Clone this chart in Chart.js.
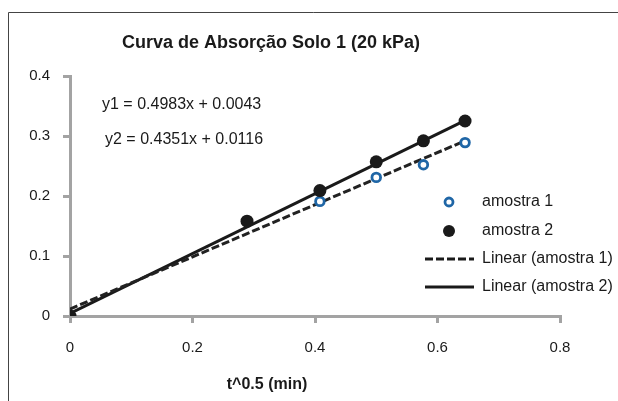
<!DOCTYPE html>
<html>
<head>
<meta charset="utf-8">
<script src="https://cdn.jsdelivr.net/npm/chart.js@4.4.0/dist/chart.umd.min.js"></script>
<style>
html,body{margin:0;padding:0;background:#fff;}
#wrap{width:618px;height:401px;position:relative;}
</style>
</head>
<body>
<div id="wrap"><canvas id="c" width="618" height="401"></canvas></div>
<script>
// ---- data ----
const titleText = 'Curva de Absorção Solo 1 (20 kPa)';
const xAxisTitle = 't^0.5 (min)';
const seriesNames = ['amostra 1', 'amostra 2', 'Linear (amostra 1)', 'Linear (amostra 2)'];
const xValues = [0, 0.289, 0.408, 0.5, 0.577, 0.645];
const amostra1 = [0, 0.158, 0.191, 0.231, 0.252, 0.289];
const amostra2 = [0, 0.158, 0.209, 0.257, 0.292, 0.325];
const trend1X = [0, 0.645];
const trend1Y = [0.0116, 0.292];
const trend2X = [0, 0.647];
const trend2Y = [0.0043, 0.327];
const equations = ['y1 = 0.4983x + 0.0043', 'y2 = 0.4351x + 0.0116'];
const xTicksMax = 0.8, yTicksMax = 0.4;

const pts = (xs, ys) => xs.map((x, i) => ({x: x, y: ys[i]}));
const FONT = '"Liberation Sans", Arial, sans-serif';
const BLUE = '#1f66a6';
const AXIS = '#a3a3a3';

const decor = {
  id: 'decor',
  afterDraw(chart) {
    const ctx = chart.ctx;
    ctx.save();
    // outer frame (cut by the picture edge)
    ctx.strokeStyle = '#444';
    ctx.lineWidth = 1;
    ctx.beginPath();
    ctx.moveTo(8.5, 401);
    ctx.lineTo(8.5, 12.5);
    ctx.lineTo(618, 12.5);
    ctx.stroke();
    // title
    ctx.fillStyle = '#1a1a1a';
    ctx.textAlign = 'center';
    ctx.textBaseline = 'middle';
    ctx.font = 'bold 18px ' + FONT;
    ctx.fillText(titleText, 271, 43);
    // x axis title
    ctx.font = 'bold 16px ' + FONT;
    ctx.fillText(xAxisTitle, 267, 385);
    // equations
    ctx.font = '16px ' + FONT;
    ctx.textAlign = 'left';
    ctx.fillText(equations[0], 102, 105);
    ctx.fillText(equations[1], 105, 140);
    // legend
    const ly = [202, 231, 259, 287];
    ctx.font = '16px ' + FONT;
    ctx.fillStyle = '#1a1a1a';
    seriesNames.forEach((n, i) => ctx.fillText(n, 482, ly[i]));
    // markers
    ctx.beginPath();
    ctx.arc(449, ly[0], 4, 0, Math.PI * 2);
    ctx.strokeStyle = BLUE;
    ctx.lineWidth = 2.8;
    ctx.stroke();
    ctx.beginPath();
    ctx.arc(449, ly[1], 6, 0, Math.PI * 2);
    ctx.fillStyle = '#1a1a1a';
    ctx.fill();
    ctx.strokeStyle = '#1a1a1a';
    ctx.lineWidth = 3;
    ctx.setLineDash([8, 3]);
    ctx.beginPath();
    ctx.moveTo(425, ly[2]); ctx.lineTo(474, ly[2]);
    ctx.stroke();
    ctx.setLineDash([]);
    ctx.beginPath();
    ctx.moveTo(425, ly[3]); ctx.lineTo(474, ly[3]);
    ctx.stroke();
    ctx.restore();
  }
};

new Chart(document.getElementById('c'), {
  type: 'scatter',
  data: {
    datasets: [
      {label: seriesNames[0], data: pts(xValues, amostra1), showLine: false,
       pointRadius: 4.3, pointBorderWidth: 2.8, pointBackgroundColor: '#fff',
       pointBorderColor: BLUE, order: 1},
      {label: seriesNames[1], data: pts(xValues, amostra2), showLine: false,
       pointRadius: 6.5, pointBorderWidth: 0, pointBackgroundColor: '#1a1a1a',
       pointBorderColor: '#1a1a1a', order: 0},
      {label: seriesNames[2], data: pts(trend1X, trend1Y), showLine: true,
       borderColor: '#222', borderWidth: 3, borderDash: [8, 3], pointRadius: 0, order: 2},
      {label: seriesNames[3], data: pts(trend2X, trend2Y), showLine: true,
       borderColor: '#1a1a1a', borderWidth: 3, pointRadius: 0, order: 3}
    ]
  },
  options: {
    responsive: false,
    animation: false,
    devicePixelRatio: 1,
    layout: {padding: {left: 0, top: 76, right: 58, bottom: 0}},
    plugins: {legend: {display: false}, tooltip: {enabled: false}, title: {display: false}},
    scales: {
      x: {
        type: 'linear', min: 0, max: xTicksMax,
        afterFit: s => { s.height = 85; },
        ticks: {stepSize: 0.2, color: '#1a1a1a', font: {family: FONT, size: 15}, padding: 16,
                callback: v => String(+v.toFixed(1))},
        grid: {drawOnChartArea: false, drawTicks: true, tickLength: 7, color: AXIS, lineWidth: 3},
        border: {color: AXIS, width: 3}
      },
      y: {
        type: 'linear', min: 0, max: yTicksMax,
        afterFit: s => { s.width = 70; },
        ticks: {stepSize: 0.1, color: '#1a1a1a', font: {family: FONT, size: 15}, padding: 13,
                callback: v => String(+v.toFixed(1))},
        grid: {drawOnChartArea: false, drawTicks: true, tickLength: 7, color: AXIS, lineWidth: 3},
        border: {color: AXIS, width: 3}
      }
    }
  },
  plugins: [decor]
});
</script>
</body>
</html>
